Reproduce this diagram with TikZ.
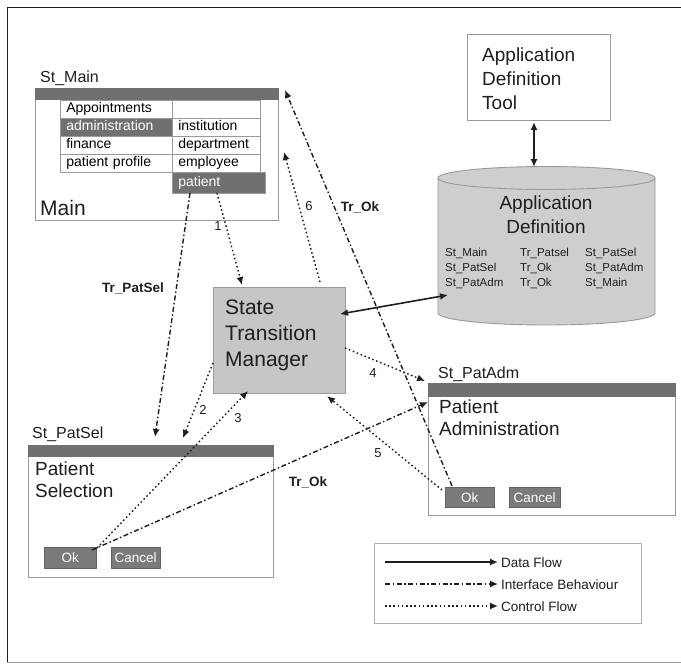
\documentclass[tikz,border=0pt]{standalone}
\usepackage{fontspec}
\setmainfont{Liberation Sans}
\usetikzlibrary{arrows.meta}
\definecolor{bar}{HTML}{707070}
\definecolor{btn}{HTML}{7A7A7A}
\definecolor{boxfill}{HTML}{C6C6C6}
\definecolor{cylfill}{HTML}{CECECE}
\definecolor{edge}{HTML}{9A9A9A}
\definecolor{ink}{HTML}{1E1E1E}
\begin{document}
\begin{tikzpicture}[x=1pt,y=-1pt,
  fs/.style={font=\fontsize{#1}{#1}\selectfont},
  win/.style={draw=edge, line width=0.9pt, fill=white, anchor=north west, inner sep=0pt, outer sep=0pt},
  titlebar/.style={draw=bar, fill=bar, anchor=north west, inner sep=0pt, outer sep=0pt},
  cell/.style={draw=edge, line width=0.6pt, anchor=north west, inner xsep=6pt, inner ysep=0pt,
    minimum height=18pt, text height=10pt, text depth=2.8pt, align=left, fs=14},
  button/.style={fill=btn, draw=btn!80!black, line width=0.4pt, text=white, anchor=north west,
    inner sep=0pt, fs=13.5},
  lbl/.style={anchor=base west, inner sep=0pt, text=ink},
  block/.style={anchor=north west, inner sep=0pt, align=left, text=ink},
  num/.style={inner sep=0pt, text=ink, fs=13},
  trl/.style={inner sep=0pt, text=ink, font=\fontsize{13.5}{13.5}\selectfont\bfseries},
  tip/.style={-{Latex[length=8pt,width=7pt]}},
  ctrl/.style={tip, ink, line width=1.4pt, dash pattern=on 1.6pt off 2.6pt},
  iface/.style={tip, ink, line width=1.4pt, dash pattern=on 5pt off 2.5pt on 1.5pt off 2.5pt},
  data/.style={{Latex[length=8pt,width=7pt]}-{Latex[length=8pt,width=7pt]}, ink, line width=1.6pt}
]
\useasboundingbox (0,0) rectangle (681,664);
\fill[white] (0,0) rectangle (681,664);
% frame
\draw[ink, line width=1pt] (7,663) -- (7,7.5) -- (681,7.5);
\draw[edge, line width=1.2pt] (7,662.5) -- (681,662.5);

% ---------- St_Main window ----------
\node[lbl, fs=16] (lMain) at (40,82) {St\_Main};
\node[win, minimum width=243pt, minimum height=132pt] (mainwin) at (35,88) {};
\node[titlebar, minimum width=243pt, minimum height=11pt] (mainbar) at (35,88) {};
\node[cell, text width=100pt] (cAppt) at (60,100) {Appointments};
\node[cell, text width=76pt] (cBlank) at (172,100) {};
\node[cell, text width=100pt, fill=bar, text=white] (cAdmin) at (60,118) {administration};
\node[cell, text width=76pt] (cInst) at (172,118) {institution};
\node[cell, text width=100pt] (cFin) at (60,136) {finance};
\node[cell, text width=76pt] (cDept) at (172,136) {department};
\node[cell, text width=100pt] (cProf) at (60,154) {patient profile};
\node[cell, text width=76pt] (cEmp) at (172,154) {employee};
\node[cell, text width=81pt, fill=bar, text=white, minimum height=21pt] (cPat) at (172,172) {patient};
\node[lbl, fs=21] (tMain) at (40,215) {Main};

% ---------- Application Definition Tool ----------
\node[win, minimum width=143pt, minimum height=86pt] (adt) at (467,34) {};
\node[block, font=\fontsize{19}{24}\selectfont] (adtT) at (482,48) {Application\\Definition\\Tool};

% ---------- Application Definition cylinder ----------
\filldraw[fill=cylfill, draw=edge, line width=0.9pt]
  (438,178) -- (438,313) arc[start angle=180, end angle=360, x radius=108.5pt, y radius=12pt]
  -- (655,178) arc[start angle=0, end angle=180, x radius=108.5pt, y radius=11.5pt] -- cycle;
\draw[edge, line width=0.9pt] (438,178) arc[start angle=180, end angle=360, x radius=108.5pt, y radius=11.5pt];
\node[anchor=north, inner sep=0pt, align=center, text=ink, font=\fontsize{19}{24}\selectfont] (cylT) at (546,196) {Application\\Definition};
\node[lbl, fs=11.5] (r11) at (445,256) {St\_Main};
\node[lbl, fs=11.5] (r12) at (520,256) {Tr\_Patsel};
\node[lbl, fs=11.5] (r13) at (585,256) {St\_PatSel};
\node[lbl, fs=11.5] (r21) at (445,271) {St\_PatSel};
\node[lbl, fs=11.5] (r22) at (520,271) {Tr\_Ok};
\node[lbl, fs=11.5] (r23) at (585,271) {St\_PatAdm};
\node[lbl, fs=11.5] (r31) at (445,286) {St\_PatAdm};
\node[lbl, fs=11.5] (r32) at (520,286) {Tr\_Ok};
\node[lbl, fs=11.5] (r33) at (585,286) {St\_Main};
\coordinate (cylTop) at (534,167);
\coordinate (cylLeft) at (448,295);

% ---------- State Transition Manager ----------
\node[draw=edge, fill=boxfill, line width=0.9pt, anchor=north west, inner sep=0pt,
  minimum width=132pt, minimum height=106pt] (stm) at (213,287) {};
\node[block, font=\fontsize{21}{26}\selectfont] (stmT) at (225,300) {State\\Transition\\Manager};

% ---------- St_PatAdm window ----------
\node[lbl, fs=16] (lAdm) at (438,378) {St\_PatAdm};
\node[win, minimum width=247pt, minimum height=132pt] (admwin) at (428,383) {};
\node[titlebar, minimum width=247pt, minimum height=13pt] (admbar) at (428,383) {};
\node[block, font=\fontsize{19}{21.5}\selectfont] (admT) at (439,400) {Patient\\Administration};
\node[button, minimum width=49pt, minimum height=20pt] (okAdm) at (445,487) {Ok};
\node[button, minimum width=51pt, minimum height=20pt] (cnAdm) at (509,487) {Cancel};

% ---------- St_PatSel window ----------
\node[lbl, fs=16] (lSel) at (32,438) {St\_PatSel};
\node[win, minimum width=245pt, minimum height=132pt] (selwin) at (28,445) {};
\node[titlebar, minimum width=245pt, minimum height=11pt] (selbar) at (28,445) {};
\node[block, font=\fontsize{19}{22}\selectfont] (selT) at (35,462) {Patient\\Selection};
\node[button, minimum width=52pt, minimum height=21pt] (okSel) at (44,547) {Ok};
\node[button, minimum width=49pt, minimum height=21pt] (cnSel) at (111,547) {Cancel};

% ---------- connectors ----------
\coordinate (stmData) at (340,314);
\coordinate (adtBot) at (534,122);
\draw[data] (stmData) -- (cylLeft);
\draw[data] (adtBot) -- (cylTop);

\coordinate (p1s) at (217,193);  \coordinate (p1e) at (242,285);
\coordinate (ps s) at (190,193); \coordinate (pse) at (155,437);
\coordinate (p2s) at (213,363);  \coordinate (p2e) at (183,438);
\coordinate (p3s) at (97,548);   \coordinate (p3e) at (248,391);
\coordinate (tls) at (92,550);   \coordinate (tle) at (428,402);
\coordinate (p4s) at (345,348);  \coordinate (p4e) at (425,381);
\coordinate (p5s) at (442,490);  \coordinate (p5e) at (327,396);
\coordinate (tus) at (452,486);  \coordinate (tue) at (285,90);
\coordinate (p6s) at (320,282);  \coordinate (p6e) at (284,152);

\draw[ctrl] (p1s) -- (p1e);
\draw[iface] (ps s) -- (pse);
\draw[ctrl] (p2s) -- (p2e);
\draw[ctrl] (p3s) -- (p3e);
\draw[iface] (tls) -- (tle);
\draw[ctrl] (p4s) -- (p4e);
\draw[ctrl] (p5s) -- (p5e);
\draw[iface] (tus) -- (tue);
\draw[ctrl] (p6s) -- (p6e);

\node[num] (n1) at (218,226) {1};
\node[num] (n2) at (203,410) {2};
\node[num] (n3) at (238,418) {3};
\node[num] (n4) at (373,373) {4};
\node[num] (n5) at (378,453) {5};
\node[num] (n6) at (309,206) {6};
\node[trl] (tPatSel) at (133,288) {Tr\_PatSel};
\node[trl] (tOkUp) at (360,207) {Tr\_Ok};
\node[trl] (tOkLow) at (308,482) {Tr\_Ok};

% ---------- legend ----------
\node[draw=edge!80, line width=0.8pt, anchor=north west, inner sep=0pt,
  minimum width=267pt, minimum height=80pt] (legend) at (374,543) {};
\coordinate (l1s) at (385,562); \coordinate (l1e) at (498,562);
\coordinate (l2s) at (385,584); \coordinate (l2e) at (498,584);
\coordinate (l3s) at (385,606); \coordinate (l3e) at (498,606);
\draw[tip, ink, line width=2pt] (l1s) -- (l1e);
\draw[iface] (l2s) -- (l2e);
\draw[ctrl] (l3s) -- (l3e);
\node[lbl, fs=13.5] (lg1) at (501,567) {Data Flow};
\node[lbl, fs=13.5] (lg2) at (501,589) {Interface Behaviour};
\node[lbl, fs=13.5] (lg3) at (501,611) {Control Flow};
\end{tikzpicture}
\end{document}
